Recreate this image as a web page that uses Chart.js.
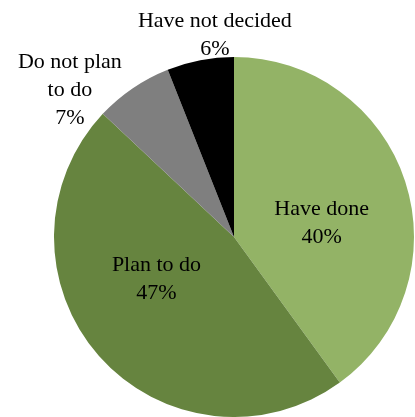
<!DOCTYPE html>
<html>
<head>
<meta charset="utf-8">
<script src="https://cdn.jsdelivr.net/npm/chart.js@4"></script>
<style>
  html, body { margin: 0; padding: 0; background: #fff; }
  #wrap { width: 415px; height: 417px; }
</style>
</head>
<body>
<div id="wrap"><canvas id="pie" width="415" height="417"></canvas></div>
<script>
var categories = ["Have done", "Plan to do", "Do not plan to do", "Have not decided"];
var values = [40, 47, 7, 6];
var colors = ["#93b366", "#66843f", "#7f7f7f", "#000000"];
// label lines as drawn in the picture
var labelLines = [
    ["Have done", "40%"],
    ["Plan to do", "47%"],
    ["Do not plan", "to do", "7%"],
    ["Have not decided", "6%"]
];
// radial fraction + small nudge for each label
var labelPlace = [
    { r: 0.5, dx: 2, dy: 14 },
    { r: 0.5, dx: -10, dy: -17 },
    { r: 1.0, dx: -63, dy: 2 },
    { r: 1.16, dx: 20, dy: 3 }
];

var labelPlugin = {
    id: 'pieLabels',
    afterDatasetsDraw: function(chart) {
        var ctx = chart.ctx;
        var meta = chart.getDatasetMeta(0);
        ctx.save();
        ctx.font = '22px "Liberation Serif"';
        ctx.fillStyle = '#000';
        ctx.textAlign = 'center';
        ctx.textBaseline = 'middle';
        meta.data.forEach(function(arc, i) {
            var mid = (arc.startAngle + arc.endAngle) / 2;
            var p = labelPlace[i];
            var d = arc.outerRadius * p.r;
            var x = arc.x + Math.cos(mid) * d + p.dx;
            var y = arc.y + Math.sin(mid) * d + p.dy;
            var lines = labelLines[i];
            var lh = 28;
            var y0 = y - (lines.length - 1) * lh / 2;
            lines.forEach(function(t, j) {
                ctx.fillText(t, x, y0 + j * lh);
            });
        });
        ctx.restore();
    }
};

var ctx = document.getElementById("pie").getContext("2d");
var pieChart = new Chart(ctx, {
    type: 'pie',
    data: {
        labels: categories,
        datasets: [{
            data: values,
            backgroundColor: colors,
            borderWidth: 0
        }]
    },
    options: {
        responsive: false,
        animation: false,
        layout: { padding: { top: 57, left: 54, right: 1, bottom: 0 } },
        plugins: {
            legend: { display: false },
            tooltip: { enabled: false }
        }
    },
    plugins: [labelPlugin]
});
</script>
</body>
</html>
